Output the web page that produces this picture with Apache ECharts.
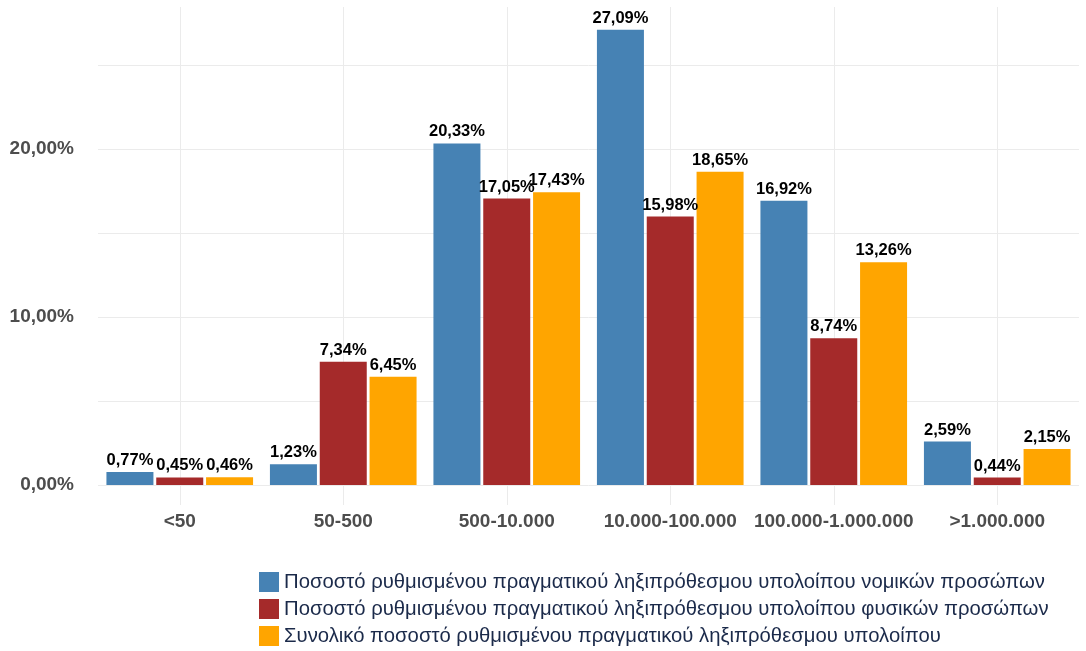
<!DOCTYPE html>
<html>
<head>
<meta charset="utf-8">
<script src="https://cdn.jsdelivr.net/npm/echarts@6/dist/echarts.min.js"></script>
<style>
  html, body { margin: 0; padding: 0; background: #fff; }
  #chart { width: 1086px; height: 651px; }
</style>
</head>
<body>
<div id="chart"></div>
<script>
  const categories = ['<50', '50-500', '500-10.000', '10.000-100.000', '100.000-1.000.000', '>1.000.000'];
  const legalPersons = [0.77, 1.23, 20.33, 27.09, 16.92, 2.59];
  const naturalPersons = [0.45, 7.34, 17.05, 15.98, 8.74, 0.44];
  const totalShare = [0.46, 6.45, 17.43, 18.65, 13.26, 2.15];
  const seriesNames = [
    'Ποσοστό ρυθμισμένου πραγματικού ληξιπρόθεσμου υπολοίπου νομικών προσώπων',
    'Ποσοστό ρυθμισμένου πραγματικού ληξιπρόθεσμου υπολοίπου φυσικών προσώπων',
    'Συνολικό ποσοστό ρυθμισμένου πραγματικού ληξιπρόθεσμου υπολοίπου'
  ];
  const colors = ['#4682B4', '#A52A2A', '#FFA500'];

  const fmt = function (v) { return v.toFixed(2).replace('.', ',') + '%'; };

  const myChart = echarts.init(document.getElementById('chart'));

  const makeSeries = function (name, data) {
    return {
      name: name,
      type: 'bar',
      data: data,
      barWidth: 47,
      barGap: '6%',
      label: {
        show: true,
        position: 'top',
        distance: 3,
        color: '#000',
        fontWeight: 'bold',
        fontSize: 16.5,
        fontFamily: 'Liberation Sans, Arial, sans-serif',
        formatter: function (p) { return fmt(p.value); }
      }
    };
  };

  const option = {
    color: colors,
    animation: false,
    grid: {
      left: 98,
      right: 7,
      top: 7,
      bottom: 166
    },
    legend: {
      orient: 'vertical',
      left: 259,
      top: 572,
      height: 80,
      padding: 0,
      itemWidth: 20,
      itemHeight: 20,
      itemGap: 7,
      icon: 'rect',
      data: seriesNames,
      textStyle: {
        color: '#1b2a4a',
        fontSize: 20.3,
        fontFamily: 'Liberation Sans, Arial, sans-serif'
      }
    },
    xAxis: {
      type: 'category',
      data: categories,
      axisLine: { show: false },
      axisTick: {
        show: true,
        alignWithLabel: true,
        length: 20,
        lineStyle: { color: '#ebebeb', width: 1 }
      },
      splitLine: {
        show: true,
        alignWithLabel: true,
        lineStyle: { color: '#ebebeb', width: 1 }
      },
      axisLabel: {
        interval: 0,
        margin: 27,
        color: '#4d4d4d',
        fontWeight: 'bold',
        fontSize: 19,
        fontFamily: 'Liberation Sans, Arial, sans-serif'
      }
    },
    yAxis: {
      type: 'value',
      min: 0,
      max: 28.45,
      interval: 5,
      axisLine: { show: false },
      axisTick: { show: false },
      splitLine: {
        show: true,
        showMaxLine: false,
        lineStyle: { color: '#ebebeb', width: 1 }
      },
      axisLabel: {
        margin: 24,
        color: '#4d4d4d',
        fontWeight: 'bold',
        fontSize: 19,
        fontFamily: 'Liberation Sans, Arial, sans-serif',
        formatter: function (v) {
          return (Math.abs(v % 10) < 1e-9) ? fmt(v) : '';
        }
      }
    },
    series: [
      makeSeries(seriesNames[0], legalPersons),
      makeSeries(seriesNames[1], naturalPersons),
      makeSeries(seriesNames[2], totalShare)
    ]
  };
  myChart.setOption(option);
</script>
</body>
</html>
